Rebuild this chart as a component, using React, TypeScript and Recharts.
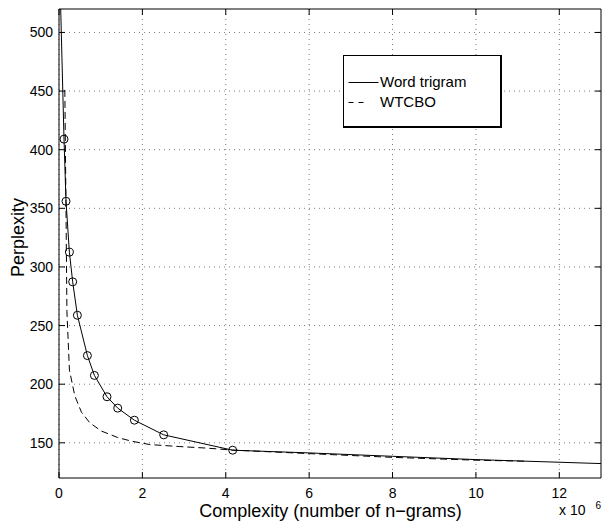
import React from 'react';
import { ComposedChart, Line, XAxis, YAxis, CartesianGrid, Legend } from 'recharts';

const FONT = '"Liberation Sans", Arial, Helvetica, sans-serif';

// Word trigram (solid line)
const trigramX = [0.03, 0.12, 0.168, 0.249, 0.328, 0.441, 0.681, 0.849, 1.151, 1.408, 1.808, 2.511, 4.166, 6, 8, 10, 13];
const trigramY = [535, 409, 356, 312.6, 287.3, 258.8, 224.4, 207.5, 189.3, 179.6, 169.3, 156.8, 143.7, 141.4, 138.5, 135.7, 132.3];

// Measured points (circle markers on the word trigram curve)
const markerX = [0.12, 0.168, 0.249, 0.328, 0.441, 0.681, 0.849, 1.151, 1.408, 1.808, 2.511, 4.166];
const markerY = [409, 356, 312.6, 287.3, 258.8, 224.4, 207.5, 189.3, 179.6, 169.3, 156.8, 143.7];

// WTCBO (dashed line)
const wtcboX = [0.14, 0.165, 0.19, 0.25, 0.38, 0.54, 0.74, 1.02, 1.41, 1.74, 2.18, 2.9, 3.54, 4.17, 6, 8, 10, 11.2];
const wtcboY = [451, 360, 262, 212, 190, 176, 167, 160, 154.5, 151.4, 148.5, 146.8, 145.5, 143.8, 140.8, 137.6, 135.2, 134.3];

const xTicks = [0, 2, 4, 6, 8, 10, 12];
const yTicks = [150, 200, 250, 300, 350, 400, 450, 500];
const xDomain = [0, 13];
const yDomain = [120, 520];
const legendNames = ['Word trigram', 'WTCBO'];

const trigramData = trigramX.map((x, i) => ({ x, y: trigramY[i] }));
const markerData = markerX.map((x, i) => ({ x, y: markerY[i] }));
const wtcboData = wtcboX.map((x, i) => ({ x, y: wtcboY[i] }));

const TICK_LEN = 6;

const BottomTick = (props: any) => {
  const { x, y, payload } = props;
  return (
    <g>
      <line x1={x} y1={y} x2={x} y2={y - TICK_LEN} stroke="#000" strokeWidth={1} />
      <text x={x} y={y + 20} textAnchor="middle" fontFamily={FONT} fontSize={14} fill="#000">
        {payload.value}
      </text>
    </g>
  );
};

const TopTick = (props: any) => {
  const { x, y } = props;
  return <line x1={x} y1={y} x2={x} y2={y + TICK_LEN} stroke="#000" strokeWidth={1} />;
};

const LeftTick = (props: any) => {
  const { x, y, payload } = props;
  return (
    <g>
      <line x1={x} y1={y} x2={x + TICK_LEN} y2={y} stroke="#000" strokeWidth={1} />
      <text x={x - 6} y={y + 5} textAnchor="end" fontFamily={FONT} fontSize={14} fill="#000">
        {payload.value}
      </text>
    </g>
  );
};

const RightTick = (props: any) => {
  const { x, y } = props;
  return <line x1={x} y1={y} x2={x - TICK_LEN} y2={y} stroke="#000" strokeWidth={1} />;
};

const renderLegend = (props: any) => {
  const payload = (props.payload || [])
    .filter((e: any) => legendNames.indexOf(e.value) >= 0)
    .sort((a: any, b: any) => legendNames.indexOf(a.value) - legendNames.indexOf(b.value));
  return (
    <div
      style={{
        width: 159,
        height: 73,
        boxSizing: 'border-box',
        border: '1px solid #000',
        borderRightWidth: 2,
        borderBottomWidth: 2,
        background: '#fff',
        position: 'relative',
        fontFamily: FONT,
        fontSize: 15,
        color: '#000',
      }}
    >
      {payload.map((entry: any, i: number) => {
        const dashed = entry.value === 'WTCBO';
        return (
          <div key={entry.value} style={{ position: 'absolute', left: 0, top: 16 + i * 20.4, height: 20, width: 150 }}>
            <svg width={36} height={20} style={{ position: 'absolute', left: 0, top: 0 }}>
              <line
                x1={4.5}
                x2={dashed ? 19.5 : 34.5}
                y1={10.5}
                y2={10.5}
                stroke="#000"
                strokeWidth={1}
                strokeDasharray={dashed ? '5 5' : undefined}
              />
            </svg>
            <span style={{ position: 'absolute', left: 36, top: 0, lineHeight: '20px', whiteSpace: 'nowrap' }}>
              {entry.value}
            </span>
          </div>
        );
      })}
    </div>
  );
};

const YLabel = (props: any) => {
  const vb = props.viewBox || { x: 0, y: 0, height: 0 };
  const cx = vb.x + 23.5;
  const cy = 237.5;
  return (
    <text
      x={cx}
      y={cy}
      transform={`rotate(-90, ${cx}, ${cy})`}
      textAnchor="middle"
      fontFamily={FONT}
      fontSize={18}
      fill="#000"
    >
      Perplexity
    </text>
  );
};

const XLabel = () => {
  return (
    <g>
      <text x={330.5} y={517} textAnchor="middle" fontFamily={FONT} fontSize={18} fill="#000">
        Complexity (number of n−grams)
      </text>
      <text x={559} y={515} textAnchor="start" fontFamily={FONT} fontSize={14} fill="#000">
        x 10
      </text>
      <text x={595.5} y={509} textAnchor="start" fontFamily={FONT} fontSize={10} fill="#000">
        6
      </text>
    </g>
  );
};

export default function App() {
  return (
    <div style={{ position: 'absolute', left: 0, top: 0, width: 603, height: 525 }}>
      <ComposedChart width={603} height={525} margin={{ top: 8, right: 1, bottom: 0, left: 0 }}>
        <CartesianGrid
          xAxisId="b"
          yAxisId="l"
          stroke="#7a7a7a"
          strokeDasharray="1 4"
          horizontalValues={yTicks}
          verticalValues={xTicks}
        />
        <XAxis
          xAxisId="b"
          dataKey="x"
          type="number"
          domain={xDomain}
          ticks={xTicks}
          interval={0}
          allowDataOverflow
          orientation="bottom"
          height={47}
          tickSize={0}
          tickMargin={0}
          tickLine={false}
          axisLine={{ stroke: '#000', strokeWidth: 1 }}
          tick={<BottomTick />}
          label={<XLabel />}
        />
        <XAxis
          xAxisId="t"
          dataKey="x"
          type="number"
          domain={xDomain}
          ticks={xTicks}
          interval={0}
          allowDataOverflow
          orientation="top"
          height={1}
          tickSize={0}
          tickMargin={0}
          tickLine={false}
          axisLine={{ stroke: '#000', strokeWidth: 1 }}
          tick={<TopTick />}
        />
        <YAxis
          yAxisId="l"
          type="number"
          domain={yDomain}
          ticks={yTicks}
          interval={0}
          allowDataOverflow
          orientation="left"
          width={59}
          tickSize={0}
          tickMargin={0}
          tickLine={false}
          axisLine={{ stroke: '#000', strokeWidth: 1 }}
          tick={<LeftTick />}
          label={<YLabel />}
        />
        <YAxis
          yAxisId="r"
          type="number"
          domain={yDomain}
          ticks={yTicks}
          interval={0}
          allowDataOverflow
          orientation="right"
          width={1}
          tickSize={0}
          tickMargin={0}
          tickLine={false}
          axisLine={{ stroke: '#000', strokeWidth: 1 }}
          tick={<RightTick />}
        />
        <Legend
          layout="vertical"
          align="center"
          verticalAlign="middle"
          content={renderLegend}
          wrapperStyle={{ left: 343, top: 55, width: 159, height: 73 }}
        />
        <Line
          xAxisId="b"
          yAxisId="l"
          name="Word trigram"
          data={trigramData}
          dataKey="y"
          type="linear"
          stroke="#000"
          strokeWidth={1}
          dot={false}
          activeDot={false}
          isAnimationActive={false}
        />
        <Line
          xAxisId="b"
          yAxisId="l"
          name="WTCBO"
          data={wtcboData}
          dataKey="y"
          type="linear"
          stroke="#000"
          strokeWidth={1}
          strokeDasharray="7 4"
          dot={false}
          activeDot={false}
          isAnimationActive={false}
        />
        <Line
          xAxisId="b"
          yAxisId="l"
          name="markers"
          legendType="none"
          data={markerData}
          dataKey="y"
          type="linear"
          stroke="none"
          dot={{ r: 4, fill: 'none', stroke: '#000', strokeWidth: 1 }}
          activeDot={false}
          isAnimationActive={false}
        />
      </ComposedChart>
    </div>
  );
}
